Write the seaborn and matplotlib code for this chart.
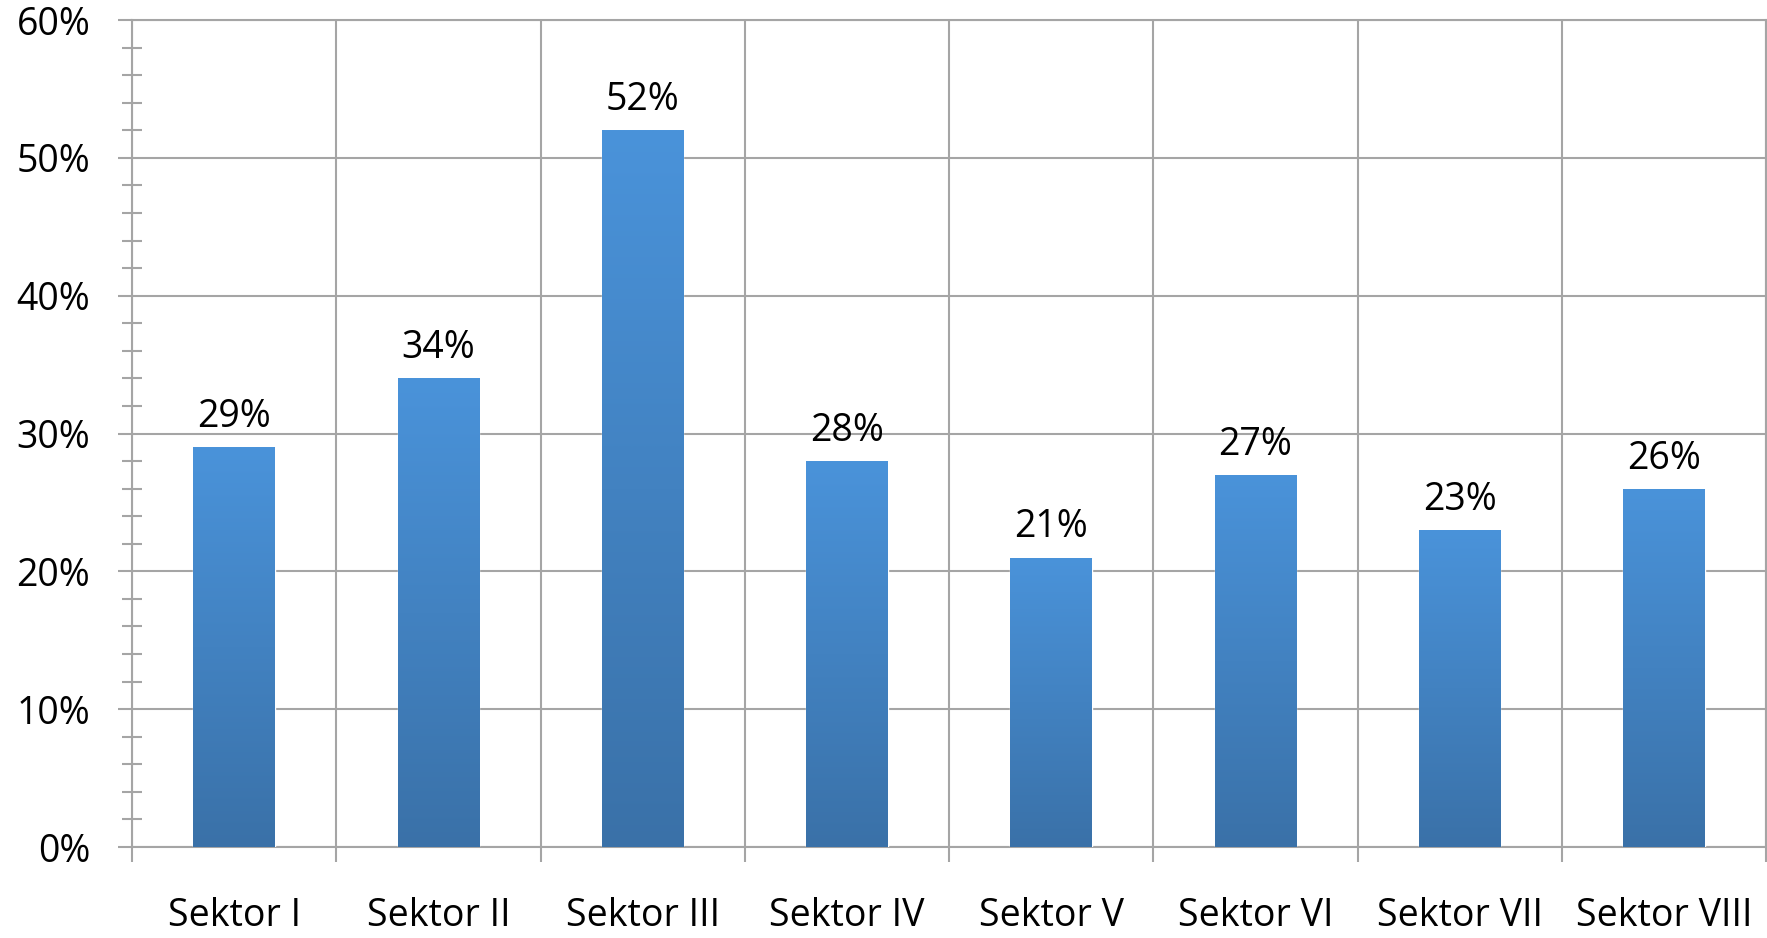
import numpy as np
import pandas as pd
import matplotlib
matplotlib.use("Agg")
import matplotlib.pyplot as plt
from matplotlib.ticker import MultipleLocator
from matplotlib.colors import LinearSegmentedColormap
import seaborn as sns

# data
sektors = ["Sektor I", "Sektor II", "Sektor III", "Sektor IV",
           "Sektor V", "Sektor VI", "Sektor VII", "Sektor VIII"]
shares = [29, 34, 52, 28, 21, 27, 23, 26]
y_ticks = [0, 10, 20, 30, 40, 50, 60]

df = pd.DataFrame({"sektor": sektors, "share": shares})

sns.set_theme(style="white")
plt.rcParams["font.family"] = ["Open Sans", "DejaVu Sans"]

grid_gray = "#A5A5A5"
bar_top = "#4A93DA"
bar_bottom = "#3A71A8"
fs = 27

fig = plt.figure(figsize=(17.67, 9.38), dpi=100)
ax = fig.add_axes([132 / 1767, 91 / 938, 1634 / 1767, 827 / 938])

sns.barplot(data=df, x="sektor", y="share", color=bar_bottom, width=0.4,
            saturation=1, ax=ax, zorder=3)

# vertical gradient inside each bar
grad = LinearSegmentedColormap.from_list("bar", [bar_bottom, bar_top])
g = np.linspace(0, 1, 256).reshape(-1, 1)
for p in ax.patches:
    x0, y0 = p.get_x(), p.get_y()
    w, h = p.get_width(), p.get_height()
    im = ax.imshow(g, cmap=grad, extent=[x0, x0 + w, y0, y0 + h],
                   origin="lower", aspect="auto", zorder=3.5)
    im.set_clip_path(p)

ax.bar_label(ax.containers[0], labels=[f"{v}%" for v in shares],
             padding=8, fontsize=fs, color="black")

ax.set_xlim(-0.5, len(sektors) - 0.5)
ax.set_ylim(0, 60)
ax.set_xlabel("")
ax.set_ylabel("")

ax.set_yticks(y_ticks)
ax.set_yticklabels([f"{t}%" for t in y_ticks])
ax.yaxis.set_minor_locator(MultipleLocator(2))
ax.set_xticks(range(len(sektors)))
ax.set_xticklabels(sektors)
ax.set_xticks(np.arange(-0.5, len(sektors), 1), minor=True)

ax.tick_params(axis="y", which="major", left=True, direction="out", length=10,
               width=1.5, color=grid_gray, pad=20, labelsize=fs, labelcolor="black")
ax.tick_params(axis="y", which="minor", left=True, direction="inout", length=15,
               width=1.5, color=grid_gray)
ax.tick_params(axis="x", which="major", length=0, pad=36, labelsize=fs,
               labelcolor="black")
ax.tick_params(axis="x", which="minor", bottom=True, direction="out", length=11,
               width=1.5, color=grid_gray)

ax.set_axisbelow(True)
ax.grid(axis="y", which="major", color=grid_gray, lw=1.5)
ax.grid(axis="x", which="minor", color=grid_gray, lw=1.5)
for s in ax.spines.values():
    s.set_color(grid_gray)
    s.set_linewidth(1.5)

fig.savefig("out.png", dpi=100)
